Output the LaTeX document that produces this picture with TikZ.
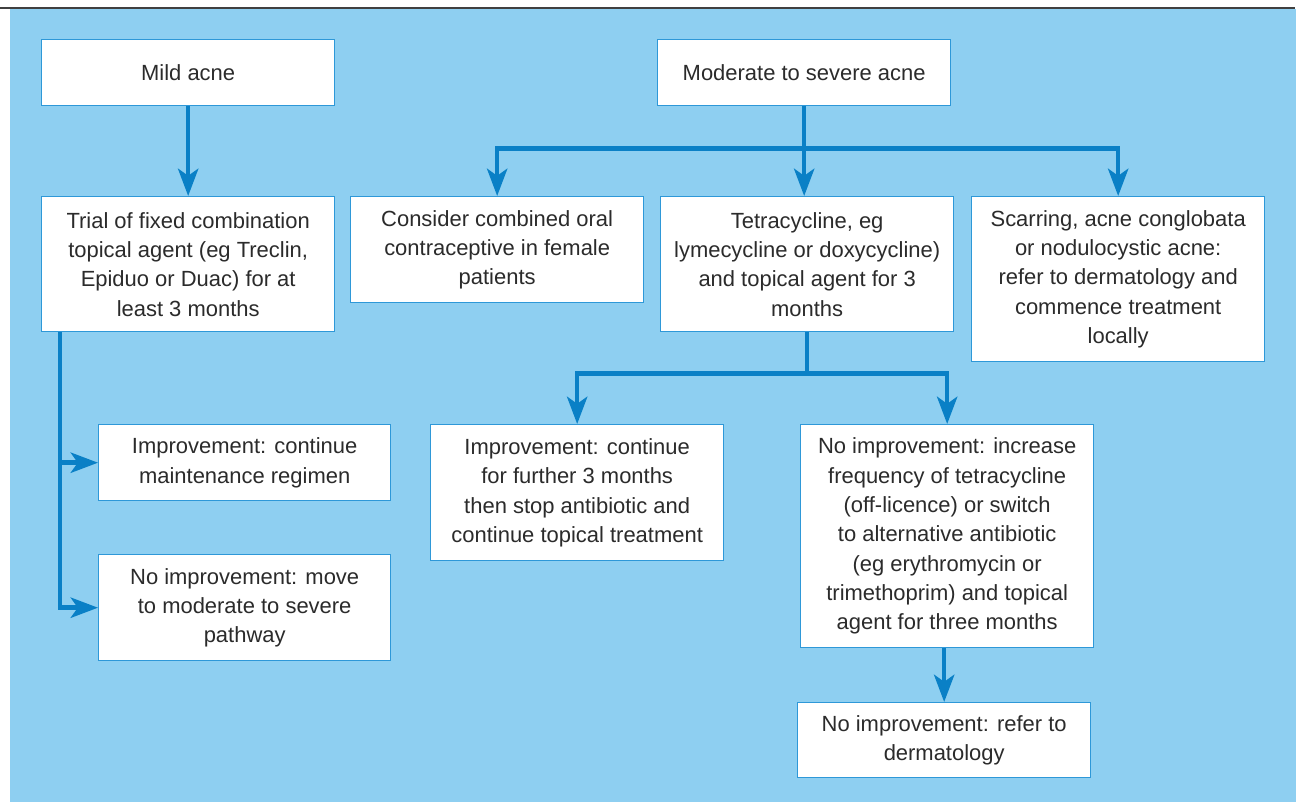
\documentclass[tikz,border=0pt]{standalone}
\usepackage{fontspec}
\setmainfont{Liberation Sans}
\usepackage{xcolor}
\usetikzlibrary{arrows.meta,positioning,calc}
\definecolor{panelblue}{HTML}{8ECFF1}
\definecolor{flowblue}{HTML}{0A80C6}
\definecolor{edgeblue}{HTML}{2E98D8}
\definecolor{ink}{HTML}{2B2B2B}
\begin{document}
\begin{tikzpicture}[x=0.02cm,y=-0.02cm,
  every node/.style={font=\fontsize{12.5}{16.7}\selectfont,text=ink},
  box/.style={draw=edgeblue,line width=0.8pt,fill=white,anchor=north west,inner sep=0pt,
    minimum width=5.86cm,align=center},
  flow/.style={draw=flowblue,line width=2.6pt},
  arr/.style={flow,-{Stealth[length=15.5pt,width=11.5pt,inset=4pt]}}]
\useasboundingbox (0,0) rectangle (1298,802);
\fill[panelblue] (10,9) rectangle (1296,802);
\draw[black!75,line width=1.2pt] (0,8) -- (1295,8);

% top row
\node[box,minimum height=1.32cm] (mild) at (41,39) {Mild acne};
\node[box,minimum height=1.32cm] (moderate) at (657,39) {Moderate to severe acne};

% second row
\node[box,minimum height=2.70cm] (trial) at (41,196)
  {Trial of fixed combination\\topical agent (eg Treclin,\\Epiduo or Duac) for at\\least 3 months};
\node[box,minimum height=2.12cm] (consider) at (350,196)
  {Consider combined oral\\contraceptive in female\\patients};
\node[box,minimum height=2.70cm] (tetra) at (660,196)
  {Tetracycline, eg\\lymecycline or doxycycline)\\and topical agent for 3\\months};
\node[box,minimum height=3.30cm] (scar) at (971,196)
  {Scarring, acne conglobata\\or nodulocystic acne:\\refer to dermatology and\\commence treatment\\locally};

% outcomes
\node[box,minimum width=5.84cm,minimum height=1.52cm] (impmaint) at (98,424)
  {Improvement: continue\\maintenance regimen};
\node[box,minimum width=5.84cm,minimum height=2.12cm] (nomove) at (98,554)
  {No improvement: move\\to moderate to severe\\pathway};
\node[box,minimum height=2.72cm] (impfurther) at (430,424)
  {Improvement: continue\\for further 3 months\\then stop antibiotic and\\continue topical treatment};
\node[box,minimum height=4.46cm] (noinc) at (800,424)
  {No improvement: increase\\frequency of tetracycline\\(off-licence) or switch\\to alternative antibiotic\\(eg erythromycin or\\trimethoprim) and topical\\agent for three months};
\node[box,minimum height=1.50cm] (noref) at (797,702)
  {No improvement: refer to\\dermatology};

% connectors
\draw[arr] (mild) -- (trial);

\coordinate (modbus) at ($(moderate.south)+(0,42)$);
\draw[arr] (moderate.south) -- (moderate.south |- tetra.north);
\draw[arr] (modbus) -| (consider.north);
\draw[arr] (modbus) -| (scar.north);

\coordinate (tetbus) at ($(tetra.south)+(0,41)$);
\draw[flow] (tetra.south) -- (tetbus);
\draw[arr] (tetbus) -| (impfurther.north);
\draw[arr] (tetbus) -| (noinc.north);

\coordinate (trialdrop) at ($(trial.south west)+(19,0)$);
\draw[arr] (trialdrop) |- (impmaint.west);
\draw[arr] (trialdrop) |- (nomove.west);

\draw[arr] (noref.north |- noinc.south) -- (noref.north);
\end{tikzpicture}
\end{document}
